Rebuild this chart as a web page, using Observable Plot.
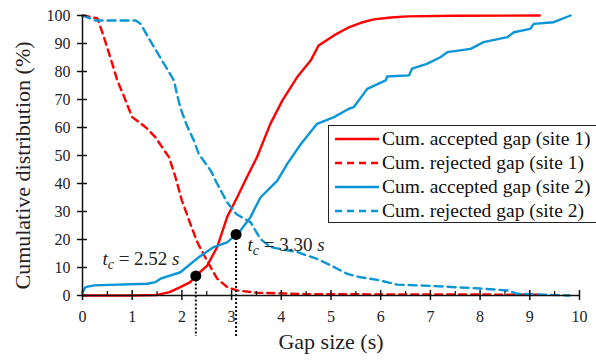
<!DOCTYPE html>
<html><head><meta charset="utf-8">
<script src="https://cdn.jsdelivr.net/npm/d3@7"></script>
<script src="https://cdn.jsdelivr.net/npm/@observablehq/plot@0.6"></script>
<style>
body{margin:0;background:#fff;}
#wrap{position:relative;width:596px;height:362px;font-family:"Liberation Serif","Times New Roman",serif;}
#legend{position:absolute;left:328px;top:125px;width:272px;height:98px;border:1.5px solid #222;background:#fff;box-sizing:border-box;}
.row{position:absolute;left:5px;height:24px;display:flex;align-items:center;font-size:19.5px;color:#111;white-space:nowrap;}
.row svg{margin-right:2px;}
</style></head><body><div id="wrap"></div>
<script>
// ---- data ----
const xTicks = [0,1,2,3,4,5,6,7,8,9,10];
const xMinor = [0.5,1.5,2.5,3.5,4.5,5.5,6.5,7.5,8.5,9.5];
const yTicks = [0,10,20,30,40,50,60,70,80,90,100];

const acc1X = [0,0.5,1.0,1.5,1.75,1.97,2.17,2.28,2.51,2.71,2.91,3.11,3.3,3.51,3.78,4.02,4.32,4.59,4.75,5.06,5.36,5.6,5.86,6.2,6.53,7.5,9.2];
const acc1Y = [0,0,0,0.2,1.2,3,4.8,7,10.7,17.3,28,35,42,49.4,61.3,69.6,78,83.9,89.3,92.9,95.8,97.4,98.6,99.3,99.7,99.9,100];

const rej1X = [0,0.3,0.42,0.6,0.7,0.8,1.0,1.27,1.47,1.6,1.74,1.87,2.0,2.17,2.31,2.54,2.71,2.91,3.11,3.5,4.5,6,9.2];
const rej1Y = [100,99,92.9,82.7,76.8,72.6,63.7,60.1,56.5,53,49.4,42.3,33.9,25.6,19,11.3,6,3,1.8,1,0.5,0.4,0.3];

const acc2X = [0,0.06,0.23,1.3,1.47,1.57,1.97,2.34,2.64,2.91,3.09,3.18,3.38,3.58,3.92,4.12,4.39,4.72,5.06,5.36,5.46,5.73,6.1,6.13,6.57,6.63,6.93,7.2,7.34,7.81,8.07,8.55,8.68,9.01,9.08,9.48,9.82];
const acc2Y = [1.2,3,3.6,4.2,4.8,6,8.3,13.7,17.3,19,21.8,23.2,28,35,41,47,54,61.3,63.7,66.7,67.3,73.8,76.8,78.2,78.6,81,82.7,85.1,86.9,88.1,90.5,92.3,94,95.2,97,97.6,100];

const rej2X = [0,0.26,1.07,1.17,1.3,1.5,1.7,1.84,1.9,1.97,2.1,2.24,2.34,2.58,2.71,2.91,3.1,3.38,3.58,3.78,4.32,4.72,5.0,5.33,5.59,5.93,6.33,7.05,8.0,8.55,8.75,9.3,9.8];
const rej2Y = [100,98.2,98.2,97,92.9,86.9,81,76.8,72,67,60.7,55.4,50.5,44.6,39.9,33.3,29,26.2,20.2,17.3,15.5,13.1,10.7,7.7,6.5,5.6,3.9,3.4,2.5,1.8,0.6,0.3,0];

const critX = [2.28, 3.09];
const critY = [7, 21.8];
const critLabel = ["2.52", "3.30"];
const critLabelX = [0.4, 3.32];
const critLabelY = [13.2, 17.9];

const seriesNames = ["Cum. accepted gap (site 1)","Cum. rejected gap (site 1)","Cum. accepted gap (site 2)","Cum. rejected gap (site 2)"];
const RED = "#ff0000", BLUE = "#0a96d6";
const series = [
  {name: seriesNames[0], xs: acc1X, ys: acc1Y, color: RED, dash: null},
  {name: seriesNames[1], xs: rej1X, ys: rej1Y, color: RED, dash: "7,5"},
  {name: seriesNames[2], xs: acc2X, ys: acc2Y, color: BLUE, dash: null},
  {name: seriesNames[3], xs: rej2X, ys: rej2Y, color: BLUE, dash: "8,5"}
];
const FONT = "Liberation Serif, Times New Roman, serif";
const pts = s => s.xs.map((x,i)=>({x, y: s.ys[i]}));
const crit = critX.map((x,i)=>({x, y: critY[i], label: critLabel[i], lx: critLabelX[i], ly: critLabelY[i]}));

const plot = Plot.plot({
  width: 596, height: 362,
  marginLeft: 82, marginRight: 17, marginTop: 15, marginBottom: 67,
  x: {domain: [0, 10]},
  y: {domain: [0, 100]},
  style: {fontFamily: FONT, fontSize: "16px", color: "#222", background: "#fff", overflow: "visible"},
  marks: [
    Plot.axisX({ticks: xTicks, tickSize: 0, tickPadding: 15, fontSize: 16, label: null, tickFormat: d => String(d)}),
    Plot.axisY({ticks: yTicks, tickSize: 0, tickPadding: 12, fontSize: 16, label: null, tickFormat: d => String(d)}),
    ...series.map(s => Plot.line(pts(s), {x: "x", y: "y", stroke: s.color, strokeWidth: 2.4, strokeDasharray: s.dash, curve: "linear"})),
    Plot.ruleY([0], {stroke: "#111", strokeWidth: 1.5}),
    Plot.ruleX([0], {stroke: "#111", strokeWidth: 1.5}),
    Plot.ruleX(xTicks, {x: d => d, y1: () => 0, y2: () => 0, insetTop: -5, insetBottom: -5, stroke: "#111", strokeWidth: 1.5}),
    Plot.ruleX(xMinor, {x: d => d, y1: () => 0, y2: () => 0, insetTop: -4, insetBottom: 0, stroke: "#111", strokeWidth: 1.2}),
    Plot.ruleY(yTicks, {y: d => d, x1: () => 0, x2: () => 0, insetLeft: -5, insetRight: -5, stroke: "#111", strokeWidth: 1.5}),
    Plot.ruleX(crit, {x: "x", y1: "y", y2: () => 0, insetBottom: -41, stroke: "#111", strokeWidth: 2, strokeDasharray: "2,2"}),
    Plot.dot(crit, {x: "x", y: "y", r: 5.5, fill: "#000", stroke: "none"}),
    Plot.text(crit, {x: "lx", y: "ly", text: d => "t_c = " + d.label + " s", textAnchor: "start", fontSize: 19, fill: "#222"}),
    Plot.text(["Gap size (s)"], {frameAnchor: "bottom", textAnchor: "middle", dy: 53, fontSize: 22, fill: "#222"}),
    Plot.text(["Cumulative distribution (%)"], {frameAnchor: "left", textAnchor: "middle", lineAnchor: "middle", rotate: -90, dx: -60, dy: 10, fontSize: 22, fill: "#222"})
  ]
});

// rich formatting of t_c labels (italic t, subscript c, italic s)
d3.select(plot).selectAll("text").each(function() {
  const t = this.textContent;
  const m = /^t_c = (.*) s$/.exec(t);
  if (!m) return;
  const el = d3.select(this);
  el.text(null);
  el.append("tspan").attr("font-style", "italic").text("t");
  el.append("tspan").attr("font-style", "italic").attr("font-size", 14).attr("dy", 4).text("c");
  el.append("tspan").attr("dy", -4).text(" = " + m[1] + " ");
  el.append("tspan").attr("font-style", "italic").text("s");
});

const wrap = document.getElementById("wrap");
wrap.appendChild(plot);

// legend
const legend = document.createElement("div");
legend.id = "legend";
const rowCenters = [14, 38, 62.5, 86.5];
series.forEach((s, i) => {
  const row = document.createElement("div");
  row.className = "row";
  row.style.top = (rowCenters[i] - 12 - 1.5) + "px";
  const sv = d3.create("svg").attr("width", 46).attr("height", 10);
  sv.append("line").attr("x1", 1).attr("x2", 45).attr("y1", 5).attr("y2", 5)
    .attr("stroke", s.color).attr("stroke-width", 2.6).attr("stroke-dasharray", s.dash ? "7,5" : null);
  row.appendChild(sv.node());
  const span = document.createElement("span");
  span.textContent = s.name;
  row.appendChild(span);
  legend.appendChild(row);
});
wrap.appendChild(legend);
</script>
</body></html>
